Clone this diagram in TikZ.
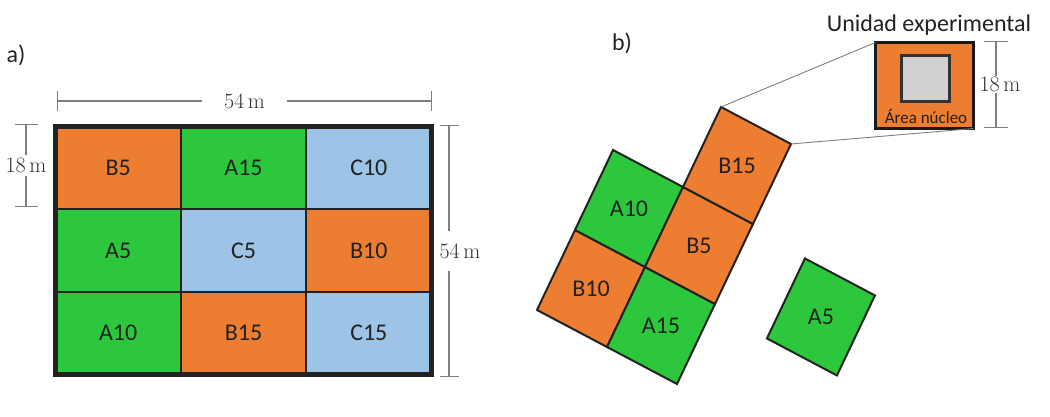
\documentclass[tikz,border=0pt]{standalone}
\usepackage{fontspec}
\newfontfamily\plotfont{Carlito}
\usetikzlibrary{arrows.meta, positioning}

\definecolor{plotA}{HTML}{2DC73D}
\definecolor{plotB}{HTML}{ED7D31}
\definecolor{plotC}{HTML}{9DC3E6}
\definecolor{coregray}{HTML}{D0D0D0}
\definecolor{dimgray}{HTML}{7F7F7F}
\definecolor{textdark}{HTML}{222222}

\tikzset{
  lab/.style={font=\plotfont\fontsize{24}{28}\selectfont, text=textdark},
  cell/.style={lab, draw=textdark, line width=2.5pt, minimum width=125.33pt, minimum height=82.67pt, inner sep=0pt, outer sep=0pt},
  tilt/.style={draw=textdark, line width=2pt},
  dimline/.style={draw=dimgray, line width=1.2pt, {Bar[width=#1]}-{Bar[width=#1]}},
  dimline/.default=20pt,
  dimtext/.style={fill=white, font=\fontsize{22}{26}\selectfont, text=black!80},
  zoomline/.style={draw=dimgray, line width=0.9pt}
}

\begin{document}
\begin{tikzpicture}[x=1pt, y=1pt]
\useasboundingbox (0,0) rectangle (1050,417);

% a) field plan
\node[lab] (labA) at (16,362) {a)};
\foreach \lab/\col [count=\i from 0] in {B5/plotB,A15/plotA,C10/plotC,A5/plotA,C5/plotC,B10/plotB,A10/plotA,B15/plotB,C15/plotC} {
    \pgfmathsetmacro\cx{118.17+125.33*mod(\i,3)}
    \pgfmathsetmacro\cy{249.17-82.67*floor(\i/3)}
    \node[cell, fill=\col] (cell\i) at (\cx,\cy) {\lab};
}
\draw[line width=5pt, draw=textdark] (cell0.north west) rectangle (cell8.south east);

\coordinate (topL) at (57,316);
\coordinate (topR) at (432,316);
\draw[dimline=20pt] (topL) -- (topR) node[midway, dimtext, inner xsep=22pt] (wTop) {54\,m};
\coordinate (rightT) at (449,292);
\coordinate (rightB) at (449,40);
\draw[dimline=19pt] (rightT) -- (rightB) node[midway, dimtext, xshift=11pt, inner ysep=12pt] (hRight) {54\,m};
\coordinate (leftT) at (26,293);
\coordinate (leftB) at (26,210);
\draw[dimline=23pt] (leftT) -- (leftB) node[midway, dimtext, inner ysep=3pt, inner xsep=0pt] (hLeft) {18\,m};

% b) tilted plots
\node[lab] (labB) at (622,374) {b)};
\begin{scope}[shift={(537,107)}, x={(70pt,-37pt)}, y={(38pt,80pt)}]
\foreach \lab/\col/\px/\py in {B10/plotB/0/0, A10/plotA/0/1, A15/plotA/1/0, B5/plotB/1/1, B15/plotB/1/2, A5/plotA/2.78/0.93} {
    \draw[tilt, fill=\col] (\px,\py) -- ++(1,0) -- ++(0,1) -- ++(-1,0) -- cycle;
    \node[lab] (b\lab) at ({\px+0.5},{\py+0.5}) {\lab};
}
\coordinate (zoomTop) at (1,3);
\coordinate (zoomRight) at (2,3);
\end{scope}

% experimental unit
\node[draw=black!90, line width=3pt, fill=plotB, minimum width=98pt, minimum height=86pt, outer sep=0pt] (unit) at (924.5,331.5) {};
\node[draw=black!80, line width=3pt, fill=coregray, minimum width=48pt, minimum height=46pt, outer sep=0pt] (core) at (925.5,338.5) {};
\node[font=\plotfont\fontsize{17}{20}\selectfont, text=textdark] (coreLab) at (926,301) {Área núcleo};
\node[lab] (unitLab) at (929,392) {Unidad experimental};
\draw[zoomline] (zoomTop) -- (unit.north west);
\draw[zoomline] (zoomRight) -- (unit.south east);
\coordinate (unitT) at (996,376);
\coordinate (unitB) at (996,289);
\draw[dimline=24pt] (unitT) -- (unitB) node[midway, dimtext, xshift=4pt, inner sep=1pt] (hUnit) {18\,m};
\end{tikzpicture}
\end{document}
